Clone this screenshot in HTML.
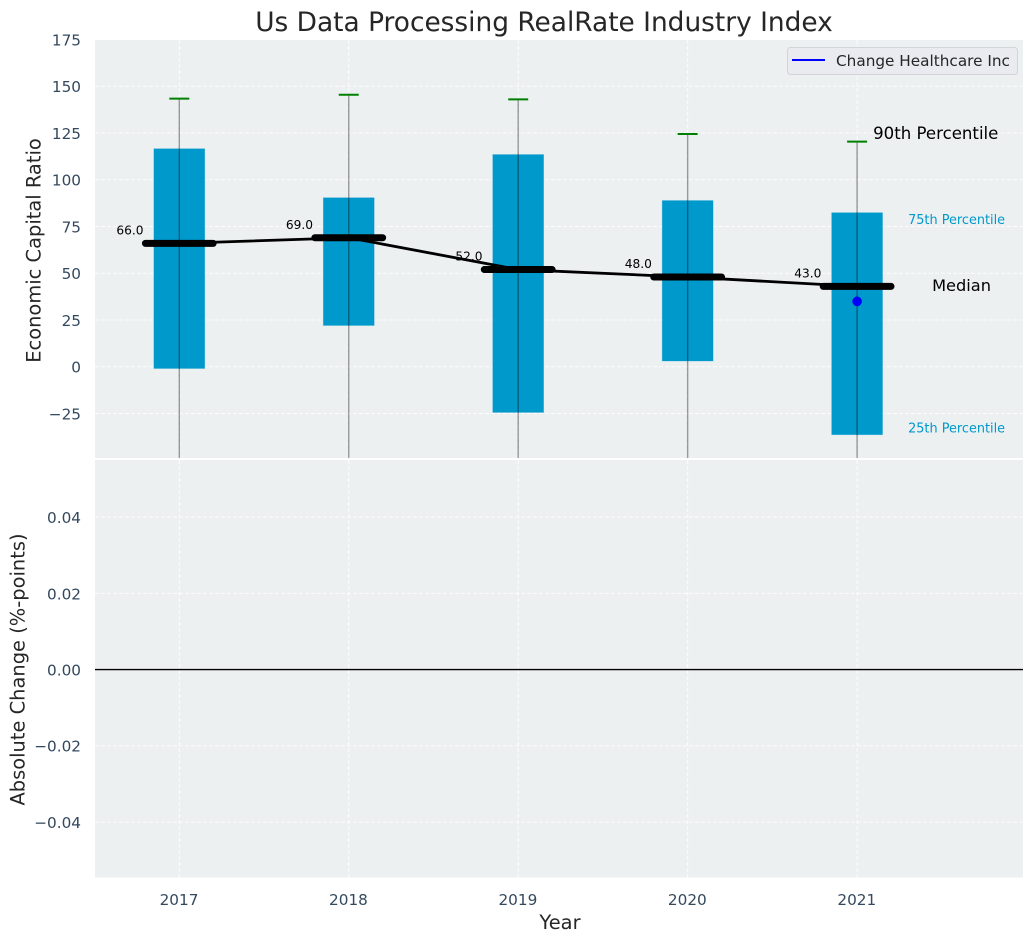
<!DOCTYPE html>
<html>
<head>
<meta charset="utf-8">
<title>Us Data Processing RealRate Industry Index</title>
<style>
html,body{margin:0;padding:0;background:#fff;width:1034px;height:942px;overflow:hidden}
svg{display:block}
text{font-family:"DejaVu Sans","Liberation Sans",sans-serif}
</style>
</head>
<body>
<svg id="chart" xmlns="http://www.w3.org/2000/svg" width="1034" height="942" viewBox="0 0 1034 942">
<defs>
<clipPath id="clipTop"><rect x="95" y="40" width="928" height="418"/></clipPath>
</defs>
<rect x="0" y="0" width="1034" height="942" fill="#fff"/>
<text x="544" y="31" font-size="26.4" fill="#262626" text-anchor="middle">Us Data Processing RealRate Industry Index</text>
<rect x="95" y="40" width="928" height="418" fill="#ecf0f1"/>
<rect x="95" y="460" width="928" height="417.5" fill="#ecf0f1"/>
<g id="gridTop"></g>
<g id="gridBottom"></g>
<g id="marks" clip-path="url(#clipTop)"></g>
<g id="labels"></g>
<g id="bottomMarks"></g>
<g id="ticks"></g>
<text transform="translate(40.5,250.5) rotate(-90)" font-size="19.44" fill="#262626" text-anchor="middle">Economic Capital Ratio</text>
<text transform="translate(24.5,669.5) rotate(-90)" font-size="19.44" fill="#262626" text-anchor="middle">Absolute Change (%-points)</text>
<text x="560" y="929" font-size="19.44" fill="#262626" text-anchor="middle">Year</text>
<g>
<rect x="787.5" y="47.5" width="230" height="27" rx="3" fill="#e9ebf1" stroke="#d2d4d8" stroke-width="1"/>
<line x1="792" y1="60" x2="825" y2="60" stroke="#0000ff" stroke-width="2"/>
<text x="836" y="66" font-size="15.28" fill="#262626">Change Healthcare Inc</text>
</g>
</svg>
<script>
var years = [2017, 2018, 2019, 2020, 2021];
var p25 = [-0.9, 22.1, -24.4, 3.1, -36.3];
var p75 = [116.6, 90.4, 113.5, 88.9, 82.4];
var p90 = [143.4, 145.5, 143, 124.5, 120.4];
var p10 = [-60, -60, -60, -60, -60];
var medians = [66, 69, 52, 48, 43];
var companyYears = [2021];
var companyValues = [35];
var topTicks = [175, 150, 125, 100, 75, 50, 25, 0, -25];
var bottomTicks = [0.04, 0.02, 0, -0.02, -0.04];
var bottomTickLabels = ['0.04', '0.02', '0.00', '\u22120.02', '\u22120.04'];

var NS = 'http://www.w3.org/2000/svg';
function x(v) { return 179.3 + (v - 2017) * 169.45; }
function yTop(v) { return 366.8 - v * 1.87; }
function yBottom(v) { return 669.6 - v * 3812; }
function mk(parentId, tag, attrs, txt) {
  var el = document.createElementNS(NS, tag);
  for (var k in attrs) el.setAttribute(k, attrs[k]);
  if (txt !== undefined) el.textContent = txt;
  document.getElementById(parentId).appendChild(el);
  return el;
}
function fmtMinus(v) { return v < 0 ? '\u2212' + Math.abs(v) : String(v); }
var el, i;
var gridStyle = { stroke: '#ffffff', 'stroke-width': 1, 'stroke-dasharray': '4 2', opacity: 0.85 };
function withGrid(o) { for (var k in gridStyle) o[k] = gridStyle[k]; return o; }

for (i = 0; i < topTicks.length; i++) {
  if (topTicks[i] !== 175) {
    el = mk('gridTop', 'line', withGrid({ x1: 95, x2: 1023, y1: yTop(topTicks[i]), y2: yTop(topTicks[i]) }));
    
    
  }
  el = mk('ticks', 'text', { x: 81, y: yTop(topTicks[i]) + 5.9, 'font-size': 15.28, fill: '#34495e', 'text-anchor': 'end' }, fmtMinus(topTicks[i]));
  
  
}
for (i = 0; i < bottomTicks.length; i++) {
  el = mk('gridBottom', 'line', withGrid({ x1: 95, x2: 1023, y1: yBottom(bottomTicks[i]), y2: yBottom(bottomTicks[i]) }));
  
  
  el = mk('ticks', 'text', { x: 81, y: yBottom(bottomTicks[i]) + 5.9, 'font-size': 15.28, fill: '#34495e', 'text-anchor': 'end' }, bottomTickLabels[i]);
  
  
}
for (i = 0; i < years.length; i++) {
  el = mk('gridTop', 'line', withGrid({ x1: x(years[i]), x2: x(years[i]), y1: 40, y2: 458 }));
  
  
  el = mk('gridBottom', 'line', withGrid({ x1: x(years[i]), x2: x(years[i]), y1: 460, y2: 877.5 }));
  
  
  el = mk('ticks', 'text', { x: x(years[i]) - 0.3, y: 905, 'font-size': 15.28, fill: '#34495e', 'text-anchor': 'middle' }, String(years[i]));
  
  
}

for (i = 0; i < years.length; i++) {
  el = mk('marks', 'rect', { x: x(years[i] - 0.15), width: x(years[i] + 0.15) - x(years[i] - 0.15), y: yTop(p75[i]), height: yTop(p25[i]) - yTop(p75[i]), fill: '#0099cc', stroke: '#0099cc', 'stroke-opacity': 0.35, 'stroke-width': 0.8 });
  
  
  el = mk('marks', 'line', { x1: x(years[i]), x2: x(years[i]), y1: yTop(p90[i]), y2: yTop(p10[i]), stroke: '#000', 'stroke-opacity': 0.38, 'stroke-width': 1.4 });
  
  
  el = mk('marks', 'line', { x1: x(years[i]) - 10, x2: x(years[i]) + 10, y1: yTop(p90[i]), y2: yTop(p90[i]), stroke: '#008000', 'stroke-width': 2 });
  
  
}

var pts = [];
for (i = 0; i < years.length; i++) pts.push(x(years[i]) + ',' + yTop(medians[i]));
el = mk('marks', 'polyline', { points: pts.join(' '), fill: 'none', stroke: '#000', 'stroke-width': 2.8 });



for (i = 0; i < years.length; i++) {
  el = mk('marks', 'line', { x1: x(years[i] - 0.2), x2: x(years[i] + 0.2), y1: yTop(medians[i]), y2: yTop(medians[i]), stroke: '#000', 'stroke-width': 7, 'stroke-linecap': 'round' });
  
  
  el = mk('labels', 'text', { x: x(years[i]) - 49.3, y: yTop(medians[i]) - 9, 'font-size': 12.2, fill: '#000', 'text-anchor': 'middle' }, medians[i].toFixed(1));
  
  
}

for (i = 0; i < companyYears.length; i++) {
  el = mk('marks', 'circle', { cx: x(companyYears[i]), cy: yTop(companyValues[i]), r: 4.8, fill: '#0000ff' });
  
  
}

var last = years.length - 1;
var lx = x(years[last]);
el = mk('labels', 'text', { x: lx + 16, y: yTop(p90[last]) - 2.6, 'font-size': 16.6, fill: '#000' }, '90th Percentile');


el = mk('labels', 'text', { x: lx + 51, y: yTop(p75[last]) + 11.5, 'font-size': 12.85, fill: '#0099cc' }, '75th Percentile');


el = mk('labels', 'text', { x: lx + 75, y: yTop(medians[last]) + 4.8, 'font-size': 16.2, fill: '#000' }, 'Median');


el = mk('labels', 'text', { x: lx + 51, y: yTop(p25[last]) - 2, 'font-size': 12.85, fill: '#0099cc' }, '25th Percentile');



el = mk('bottomMarks', 'line', { x1: 95, x2: 1023, y1: yBottom(0), y2: yBottom(0), stroke: '#000', 'stroke-width': 1.4 });


</script>
</body>
</html>
